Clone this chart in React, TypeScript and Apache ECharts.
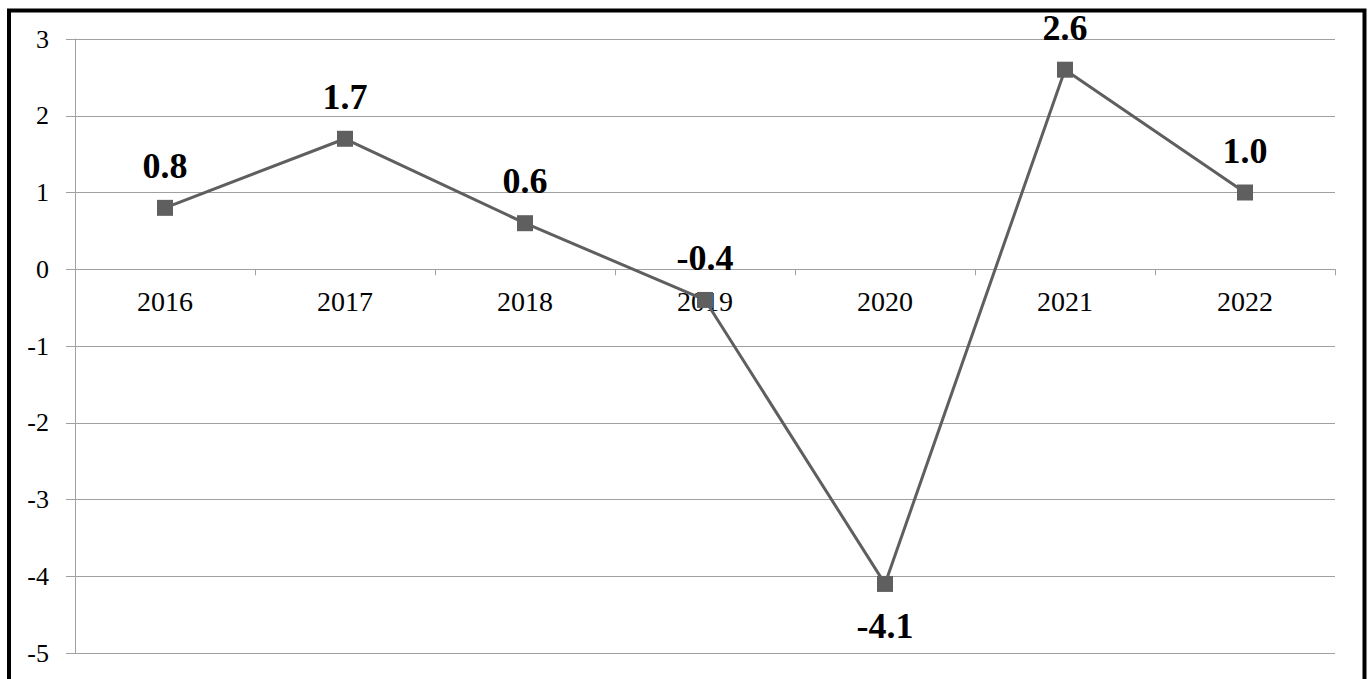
import React, { useEffect, useRef } from "react";
import * as echarts from "echarts";

const categories = ["2016", "2017", "2018", "2019", "2020", "2021", "2022"];
const values = [0.8, 1.7, 0.6, -0.4, -4.1, 2.6, 1.0];
const yMin = -5;
const yMax = 3;

export default function App() {
  const ref = useRef<HTMLDivElement>(null);
  useEffect(() => {
    document.body.style.margin = "0";
    const chart = echarts.init(ref.current!, null, { renderer: "svg" });
    const font = "'Liberation Serif', 'Times New Roman', serif";
    const gridTop = 39;
    const gridBottom = 26;
    const plotH = 679 - gridTop - gridBottom;
    const zeroOffset = -plotH * (0 - yMin) / (yMax - yMin);
    chart.setOption({
      animation: false,
      backgroundColor: "#ffffff",
      grid: {
        left: 75,
        right: 36,
        top: gridTop,
        bottom: gridBottom,
        containLabel: false,
        outerBoundsMode: "none",
      },
      xAxis: {
        type: "category",
        data: categories,
        boundaryGap: true,
        position: "bottom",
        offset: zeroOffset,
        axisLine: { onZero: false, lineStyle: { color: "#a0a0a0", width: 1 } },
        axisTick: { show: true, length: 6, inside: false, lineStyle: { color: "#a0a0a0" } },
        axisLabel: { color: "#000", fontFamily: font, fontSize: 28, margin: 18 },
        splitLine: { show: false },
      },
      yAxis: {
        type: "value",
        min: yMin,
        max: yMax,
        interval: 1,
        axisLine: { show: true, lineStyle: { color: "#a0a0a0", width: 1 } },
        axisTick: { show: true, length: 9, lineStyle: { color: "#a0a0a0" } },
        axisLabel: { color: "#000", fontFamily: font, fontSize: 26, margin: 26 },
        splitLine: { show: true, lineStyle: { color: "#a0a0a0", width: 1 } },
      },
      series: [
        {
          type: "line",
          data: values.map((v) => ({
            value: v,
            label: { position: v < -1 ? "bottom" : "top" },
          })),
          symbol: "rect",
          symbolSize: 16,
          lineStyle: { color: "#5f5f5f", width: 3 },
          itemStyle: { color: "#5f5f5f" },
          label: {
            show: true,
            fontFamily: font,
            fontSize: 36,
            fontWeight: "bold",
            color: "#000",
            distance: 16,
            formatter: (p: any) => Number(p.value).toFixed(1),
          },
          z: 3,
        },
      ],
      graphic: [
        {
          type: "rect",
          shape: { x: 9, y: 10.5, width: 1355.5, height: 700 },
          style: { fill: "none", stroke: "#000", lineWidth: 4 },
          silent: true,
          z: 10,
        },
      ],
    });
    return () => chart.dispose();
  }, []);
  return <div ref={ref} style={{ width: 1371, height: 679 }} />;
}
